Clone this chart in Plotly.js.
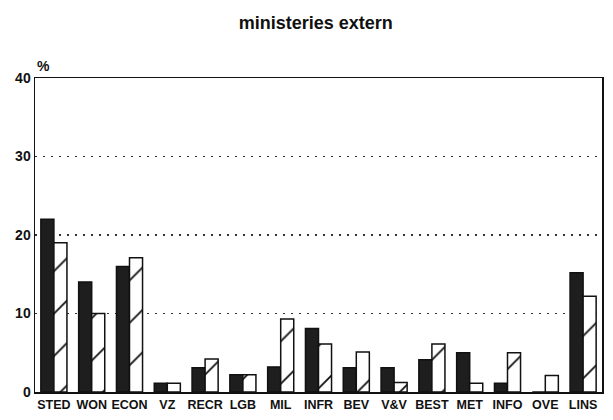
<!DOCTYPE html>
<html>
<head>
<meta charset="utf-8">
<script src="https://cdn.plot.ly/plotly-3.0.1.min.js"></script>
<style>html,body{margin:0;padding:0;background:#fff}#chart{width:613px;height:420px}</style>
</head>
<body>
<div id="chart"></div>
<script>
const categories = ["STED","WON","ECON","VZ","RECR","LGB","MIL","INFR","BEV","V&V","BEST","MET","INFO","OVE","LINS"];
const seriesSolid = [22, 14, 16, 1.1, 3.1, 2.2, 3.2, 8.1, 3.1, 3.1, 4.1, 5.0, 1.1, 0, 15.2];
const seriesHatched = [19, 10, 17.1, 1.1, 4.2, 2.2, 9.3, 6.1, 5.1, 1.2, 6.1, 1.1, 5.0, 2.1, 12.2];
const yTicks = [0, 10, 20, 30, 40];

const font = "Liberation Sans, Arial, sans-serif";

const traces = [
  {
    type: "bar",
    x: categories,
    y: seriesSolid,
    marker: {color: "#1e1e1e", line: {color: "#111", width: 1.5}},
    hoverinfo: "x+y"
  },
  {
    type: "bar",
    x: categories,
    y: seriesHatched,
    marker: {
      color: "#ffffff",
      line: {color: "#111", width: 1.5},
      pattern: {shape: "/", bgcolor: "#ffffff", fgcolor: "#111111", size: 30, solidity: 0.06}
    },
    hoverinfo: "x+y"
  }
];

const layout = {
  width: 613,
  height: 420,
  margin: {l: 35, r: 11, t: 78, b: 28},
  paper_bgcolor: "#ffffff",
  plot_bgcolor: "#ffffff",
  showlegend: false,
  barmode: "group",
  bargap: 0.31,
  bargroupgap: 0,
  title: {
    text: "ministeries extern",
    font: {family: font, size: 18, color: "#111", weight: "bold"},
    x: 0.515, xanchor: "center",
    y: 0.945, yanchor: "middle", yref: "container"
  },
  xaxis: {
    type: "category",
    showline: true, mirror: true, linecolor: "#111", linewidth: 1.5,
    showgrid: false, ticks: "",
    tickfont: {family: font, size: 12.5, color: "#111", weight: "bold"}
  },
  yaxis: {
    range: [0, 40],
    tickvals: yTicks,
    ticktext: yTicks.map(String),
    showline: true, mirror: true, linecolor: "#111", linewidth: 1.5,
    showgrid: true, gridcolor: "#333", griddash: "2px,6px", gridwidth: 1.5,
    zeroline: false, ticks: "",
    tickfont: {family: font, size: 14, color: "#111", weight: "bold"}
  },
  annotations: [
    {
      text: "%", xref: "paper", yref: "paper", x: 0, y: 1,
      xanchor: "left", yanchor: "bottom", yshift: 2, showarrow: false,
      font: {family: font, size: 14, color: "#111", weight: "bold"}
    }
  ]
};

Plotly.newPlot("chart", traces, layout, {displayModeBar: false, staticPlot: true});
</script>
</body>
</html>
